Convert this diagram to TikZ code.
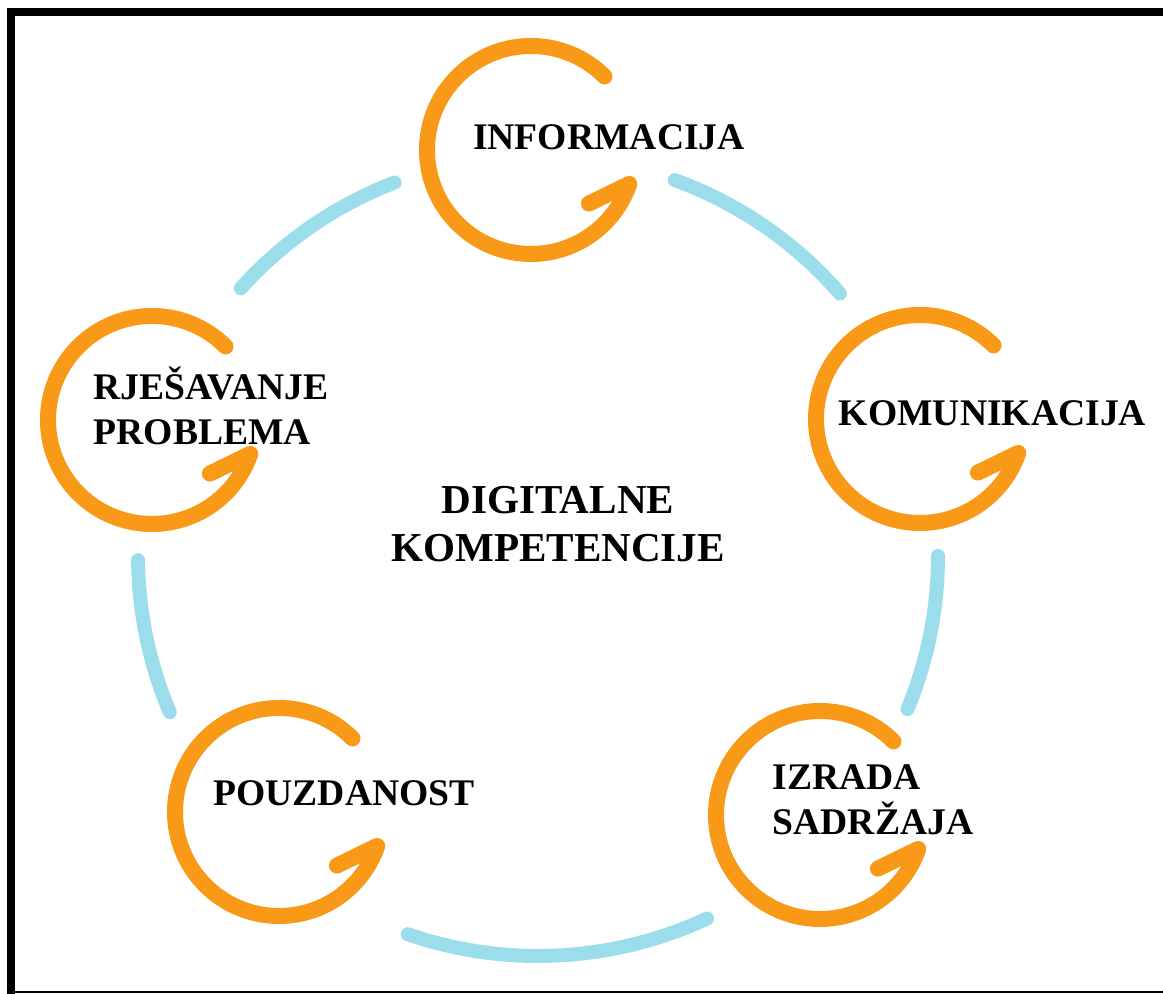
\documentclass[tikz,border=0pt]{standalone}
\usepackage{fontspec}
\setmainfont{Liberation Serif}
\definecolor{loopor}{RGB}{248,153,24}
\definecolor{ringblue}{RGB}{156,221,236}
\tikzset{
    loopline/.style={
        draw=loopor, line width=0.16cm,
        line cap=round, line join=round
    },
    ringline/.style={draw=ringblue, line width=0.14cm, line cap=round},
    areatext/.style={
        font=\bfseries\fontsize{10.7}{12.8}\selectfont,
        inner sep=0pt, align=left
    },
    centretext/.style={
        font=\bfseries\fontsize{11.7}{13.7}\selectfont,
        inner sep=0pt, align=center
    },
    outerframe/.style={draw=black, line width=0.08cm}
}

\begin{document}
\begin{tikzpicture}
\useasboundingbox (0,0) rectangle (11.63,9.94);

% Frame
\draw[outerframe] (11.63,9.82) -- (0.11,9.82) -- (0.11,0);
\draw[draw=black, line width=0.02cm] (0.07,0.02) -- (11.63,0.02);

% Ring
\coordinate (hub) at (5.38,4.38);
\draw[ringline] ([shift={(111:4)}]hub) arc[start angle=111, end angle=138, radius=4];
\draw[ringline] ([shift={(41:4)}]hub) arc[start angle=41, end angle=70, radius=4];
\draw[ringline] ([shift={(-22.5:4)}]hub) arc[start angle=-22.5, end angle=0, radius=4];
\draw[ringline] ([shift={(-109:4)}]hub) arc[start angle=-109, end angle=-65, radius=4];
\draw[ringline] ([shift={(180.6:4)}]hub) arc[start angle=180.6, end angle=203, radius=4];

% Loops
\coordinate (cinf) at (5.31,8.44);
\coordinate (ckom) at (9.20,5.75);
\coordinate (cizr) at (8.20,1.79);
\coordinate (cpou) at (2.79,1.82);
\coordinate (crje) at (1.52,5.74);

\draw[loopline] ([shift={(45:1.04)}]cinf) arc[start angle=45, end angle=341, radius=1.04] -- ++(206:0.45);
\draw[loopline] ([shift={(45:1.04)}]ckom) arc[start angle=45, end angle=341, radius=1.04] -- ++(206:0.45);
\draw[loopline] ([shift={(45:1.04)}]cizr) arc[start angle=45, end angle=341, radius=1.04] -- ++(206:0.45);
\draw[loopline] ([shift={(45:1.04)}]cpou) arc[start angle=45, end angle=341, radius=1.04] -- ++(206:0.45);
\draw[loopline] ([shift={(45:1.04)}]crje) arc[start angle=45, end angle=341, radius=1.04] -- ++(206:0.45);

% Texts
\node[areatext] (tinf) at (6.09,8.57) {INFORMACIJA};
\node[areatext] (tkom) at (9.925,5.81) {KOMUNIKACIJA};
\node[areatext, anchor=west] (tizr) at (7.72,1.945) {IZRADA\\SADRŽAJA};
\node[areatext] (tpou) at (3.44,2.01) {POUZDANOST};
\node[areatext, anchor=west] (trje) at (0.93,5.885) {RJEŠAVANJE\\PROBLEMA};
\node[centretext] (tdig) at (5.58,4.70) {DIGITALNE\\KOMPETENCIJE};

\end{tikzpicture}
\end{document}
